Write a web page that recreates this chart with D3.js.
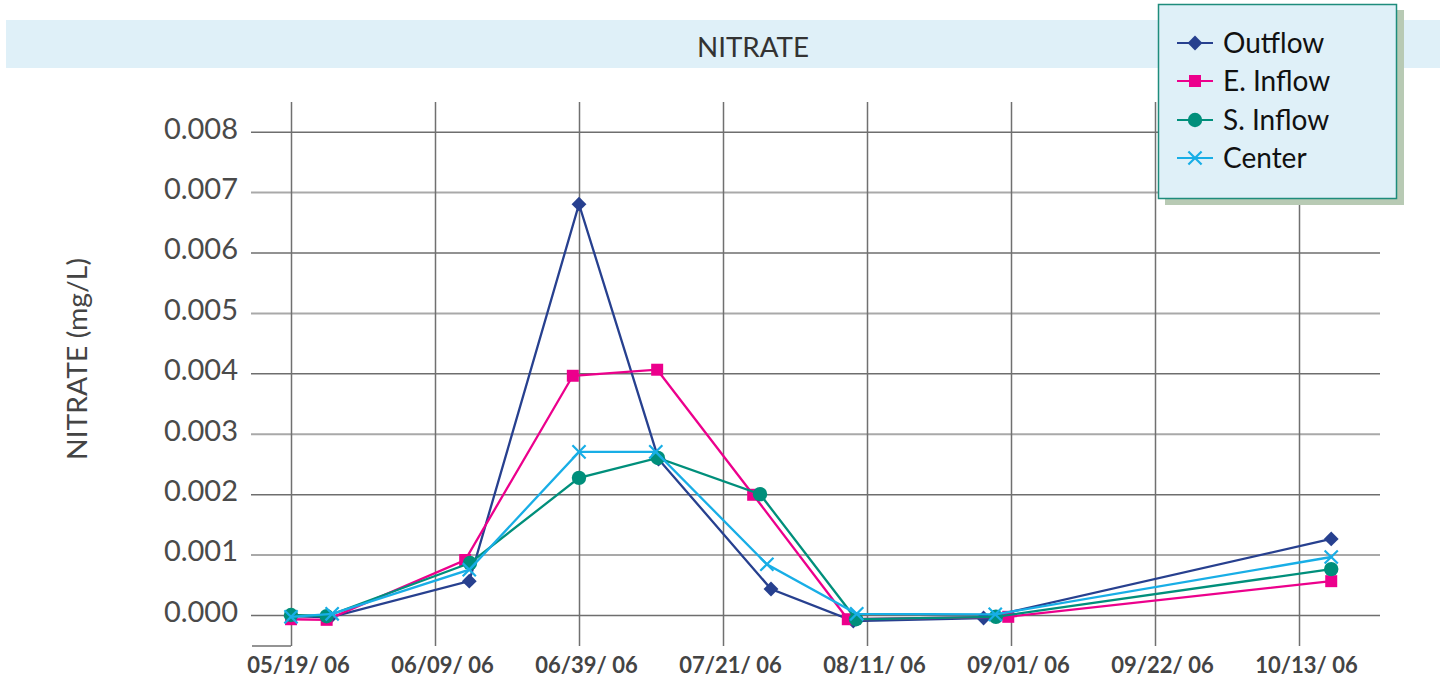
<!DOCTYPE html>
<html>
<head>
<meta charset="utf-8">
<script src="https://cdn.jsdelivr.net/npm/d3@7"></script>
<style>
  body { margin: 0; background: #fff; }
  svg { display: block; font-family: Lato, "Open Sans", sans-serif; }
</style>
</head>
<body>
<svg id="chart" width="1444" height="683"></svg>
<script>
// days after 05/19/06 for each sample, per site
var seriesNames = ["Outflow", "E. Inflow", "S. Inflow", "Center"];
var outflowDays = [0, 5.7, 26, 42, 53.6, 70, 82, 101, 151.7];
var eInflowDays = [0, 5.2, 25.4, 41.1, 53.4, 67.4, 81.2, 104.6, 151.7];
var sInflowDays = [0, 5.2, 26.1, 42, 53.5, 68.4, 82.4, 102.8, 151.7];
var centerDays  = [0, 6.0, 26.0, 42, 53.2, 69.4, 82.5, 102.7, 151.7];

// nitrate, mg/L
var outflowVals = [-0.00002, -0.00004, 0.00056, 0.0068, 0.00258, 0.00043, -0.0001, -0.00005, 0.00126];
var eInflowVals = [-0.00007, -0.00008, 0.00091, 0.00396, 0.00406, 0.00199, -0.00007, -0.00003, 0.00056];
var sInflowVals = [0, -0.00002, 0.00086, 0.00227, 0.0026, 0.002, -0.00007, -0.00003, 0.00076];
var centerVals  = [-0.00003, 0.00002, 0.00075, 0.0027, 0.0027, 0.00084, 0.00002, 0.00001, 0.00096];

var xTickDays = [0, 21, 42, 63, 84, 105, 126, 147];
var xTickLabels = ["05/19/ 06", "06/09/ 06", "06/39/ 06", "07/21/ 06", "08/11/ 06", "09/01/ 06", "09/22/ 06", "10/13/ 06"];
var yTicks = [0, 0.001, 0.002, 0.003, 0.004, 0.005, 0.006, 0.007, 0.008];

var colors = ["#27408f", "#ec008c", "#008f7b", "#18aee6"];
var shapes = ["diamond", "square", "circle", "cross"];

var allDays = [outflowDays, eInflowDays, sInflowDays, centerDays];
var allVals = [outflowVals, eInflowVals, sInflowVals, centerVals];

var series = seriesNames.map(function(n, i){
  return {
    name: n, color: colors[i], shape: shapes[i],
    pts: allDays[i].map(function(d, j){ return {day: d, v: allVals[i][j]}; })
  };
});

var svg = d3.select("#chart");

var x = d3.scaleLinear().domain([0, 147]).range([291, 1299]);
var y = d3.scaleLinear().domain([0, 0.008]).range([615, 131.7]);
var gridLeft = 251, gridRight = 1380, gridTop = 102, gridBottom = 646;

// title band
svg.append("rect").attr("x", 6).attr("y", 20).attr("width", 1434).attr("height", 48).attr("fill", "#dff0f8");
svg.append("text").attr("x", 753).attr("y", 57).attr("text-anchor", "middle")
  .attr("font-size", 27).attr("fill", "#333").attr("textLength", 112).attr("lengthAdjust", "spacingAndGlyphs")
  .text("NITRATE");

// y axis + horizontal grid
var yAxis = svg.append("g")
  .attr("transform", "translate(" + gridLeft + ",0)")
  .call(d3.axisLeft(y).tickValues(yTicks).tickSize(-(gridRight - gridLeft)).tickPadding(13)
    .tickFormat(d3.format(".3f")));
yAxis.select(".domain").remove();
yAxis.selectAll("line").attr("stroke", function(d, i){ return i % 2 ? "#a9a9a9" : "#6e6e6e"; })
  .attr("stroke-width", function(d, i){ return i % 2 ? 2 : 1.5; });
yAxis.selectAll("text").attr("font-size", 29).attr("fill", "#4a4a4a").attr("font-family", "Lato").attr("dy", "0.22em");

// x axis + vertical grid
var xAxis = svg.append("g")
  .attr("transform", "translate(0," + gridBottom + ")")
  .call(d3.axisBottom(x).tickValues(xTickDays).tickSize(-(gridBottom - gridTop)).tickPadding(11)
    .tickFormat(function(d, i){ return xTickLabels[i]; }));
xAxis.select(".domain").remove();
xAxis.selectAll("line").attr("stroke", "#707070").attr("stroke-width", 1.5);
xAxis.selectAll("text").attr("font-size", 22).attr("font-weight", "bold").attr("fill", "#444")
  .attr("font-family", "Lato").attr("dx", 7);

// short base line left of the plot
svg.append("line").attr("x1", gridLeft + 1).attr("x2", x(0)).attr("y1", gridBottom).attr("y2", gridBottom)
  .attr("stroke", "#707070").attr("stroke-width", 1.5);

// y axis title
svg.append("text").attr("transform", "translate(87,359) rotate(-90)").attr("text-anchor", "middle")
  .attr("font-size", 27).attr("fill", "#444").attr("textLength", 202).attr("lengthAdjust", "spacingAndGlyphs")
  .text("NITRATE (mg/L)");

function drawMarker(g, shape, color, cx, cy, scale){
  scale = scale || 1;
  if (shape === "diamond") {
    g.append("path").attr("d", d3.symbol().type(d3.symbolDiamond2).size(140 * scale)())
      .attr("transform", "translate(" + cx + "," + cy + ")").attr("fill", color);
  } else if (shape === "square") {
    g.append("path").attr("d", d3.symbol().type(d3.symbolSquare).size(144 * scale)())
      .attr("transform", "translate(" + cx + "," + cy + ")").attr("fill", color);
  } else if (shape === "circle") {
    g.append("circle").attr("cx", cx).attr("cy", cy).attr("r", 7.2 * Math.sqrt(scale)).attr("fill", color);
  } else {
    g.append("path").attr("d", d3.symbol().type(d3.symbolX).size(115 * scale)())
      .attr("transform", "translate(" + cx + "," + cy + ")")
      .attr("fill", "none").attr("stroke", color).attr("stroke-width", 2.2);
  }
}

var line = d3.line().x(function(d){ return x(d.day); }).y(function(d){ return y(d.v); });

series.forEach(function(s){
  var g = svg.append("g");
  g.append("path").datum(s.pts).attr("d", line)
    .attr("fill", "none").attr("stroke", s.color).attr("stroke-width", 2.3);
  s.pts.forEach(function(p){ drawMarker(g, s.shape, s.color, x(p.day), y(p.v)); });
});

// legend
var lg = svg.append("g");
lg.append("rect").attr("x", 1165).attr("y", 10).attr("width", 239).attr("height", 195).attr("fill", "#b8cab4");
lg.append("rect").attr("x", 1158.5).attr("y", 4.5).attr("width", 238).attr("height", 194)
  .attr("fill", "#dff0f8").attr("stroke", "#1e8c7c").attr("stroke-width", 1.5);
var legendY = [43, 81, 120, 158];
series.forEach(function(s, i){
  var ly = legendY[i];
  lg.append("line").attr("x1", 1177).attr("x2", 1213).attr("y1", ly).attr("y2", ly)
    .attr("stroke", s.color).attr("stroke-width", 2.2);
  drawMarker(lg, s.shape, s.color, 1195, ly);
  lg.append("text").attr("x", 1223).attr("y", ly + 10).attr("font-size", 28).attr("fill", "#111").text(s.name);
});
</script>
</body>
</html>
